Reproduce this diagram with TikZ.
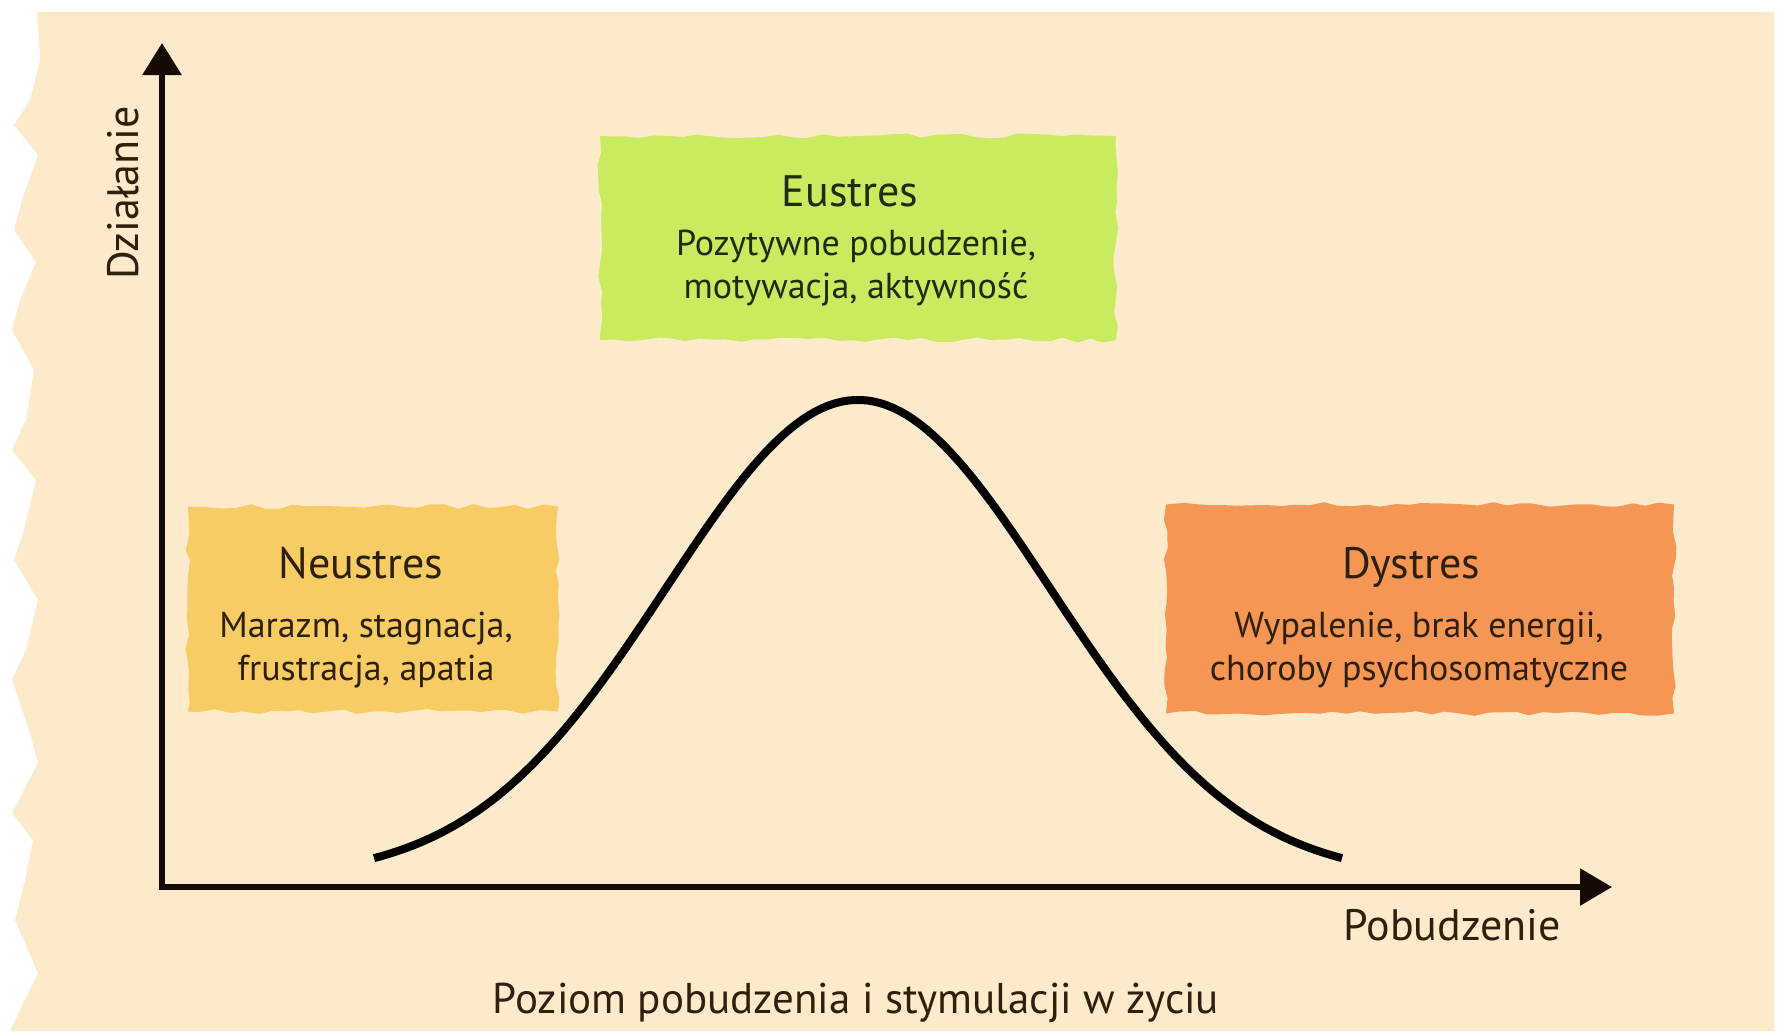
\documentclass[tikz,border=0pt]{standalone}
\usepackage{fontspec}
\setmainfont{PT Sans}
\usetikzlibrary{arrows.meta,decorations.pathmorphing}
\definecolor{bg}{HTML}{FCEACA}
\definecolor{eugreen}{HTML}{C8EB5F}
\definecolor{neyellow}{HTML}{F8CC64}
\definecolor{dyorange}{HTML}{F59655}
\definecolor{axiscol}{HTML}{150A05}
\definecolor{txtbrown}{HTML}{2E200C}
\definecolor{txtgreen}{HTML}{1E2D0A}
\newcommand\titlesize{\fontsize{44}{52}\selectfont}
\newcommand\bodysize{\fontsize{36}{43}\selectfont}
\begin{document}
\begin{tikzpicture}[x=1pt,y=-1pt,
  torn/.style={inner sep=0pt, decorate, decoration={random steps, segment length=14pt, amplitude=2.5pt}},
  boxtitle/.style={anchor=base, inner sep=0pt, font=\titlesize},
  boxbody/.style={anchor=base, inner sep=0pt, font=\bodysize, align=center},
  axislabel/.style={anchor=base, inner sep=0pt, font=\titlesize, text=txtbrown},
  axis/.style={line width=6pt, draw=axiscol, line join=miter},
  curve/.style={line width=8pt, draw=black}]
\pgfmathsetseed{7}
\useasboundingbox (0,0) rectangle (1778,1031);
\fill[white] (0,0) rectangle (1778,1031);
\fill[bg] (37,12) -- (1774,12) -- (1774,1031) -- (10,1031)
  -- (38,973) -- (15,920) -- (25,880) -- (33,840) -- (12,813) -- (38,763)
  -- (30,733) -- (12,680) -- (26,650) -- (38,600) -- (14,560) -- (24,530)
  -- (36,480) -- (12,450) -- (26,420) -- (34,370) -- (12,330) -- (20,300)
  -- (36,262) -- (14,230) -- (22,200) -- (38,155) -- (14,125) -- (30,100)
  -- (40,60) -- cycle;

% boxes
\node[torn, fill=eugreen, minimum width=516pt, minimum height=204pt] (eubox) at (858,238) {};
\node[torn, fill=neyellow, minimum width=370pt, minimum height=205pt] (nebox) at (373,609) {};
\node[torn, fill=dyorange, minimum width=508pt, minimum height=209pt] (dybox) at (1420,609) {};

\node[boxtitle, text=txtgreen] (eutitle) at (850,206) {Eustres};
\node[boxbody, text=txtgreen] (eubody) at (856,298) {Pozytywne pobudzenie,\\motywacja, aktywność};

\node[boxtitle, text=txtbrown] (netitle) at (361,578) {Neustres};
\node[boxbody, text=txtbrown] (nebody) at (366,680) {Marazm, stagnacja,\\frustracja, apatia};

\node[boxtitle, text=txtbrown] (dytitle) at (1411,578) {Dystres};
\node[boxbody, text=txtbrown] (dybody) at (1419,680) {Wypalenie, brak energii,\\choroby psychosomatyczne};

% axes
\coordinate (origin) at (162,887);
\coordinate (ytip) at (162,43);
\coordinate (xtip) at (1612,887);
\draw[axis, {Triangle[length=32pt,width=38pt]}-{Triangle[length=32pt,width=36pt]}] (ytip) -- (origin) -- (xtip);

% curve
\draw[curve] plot[domain=374:1342, samples=150]
  (\x, {858 - 458*(exp(-0.5*((\x-858)/192)*((\x-858)/192)) - 0.0419)/(1-0.0419)});

% axis labels
\node[axislabel, rotate=90] (ylabel) at (138,193) {Działanie};
\node[axislabel] (xlabel) at (1452,940) {Pobudzenie};
\node[axislabel, font=\fontsize{43}{50}\selectfont] (bottomlabel) at (856,1013) {Poziom pobudzenia i stymulacji w życiu};
\end{tikzpicture}
\end{document}
